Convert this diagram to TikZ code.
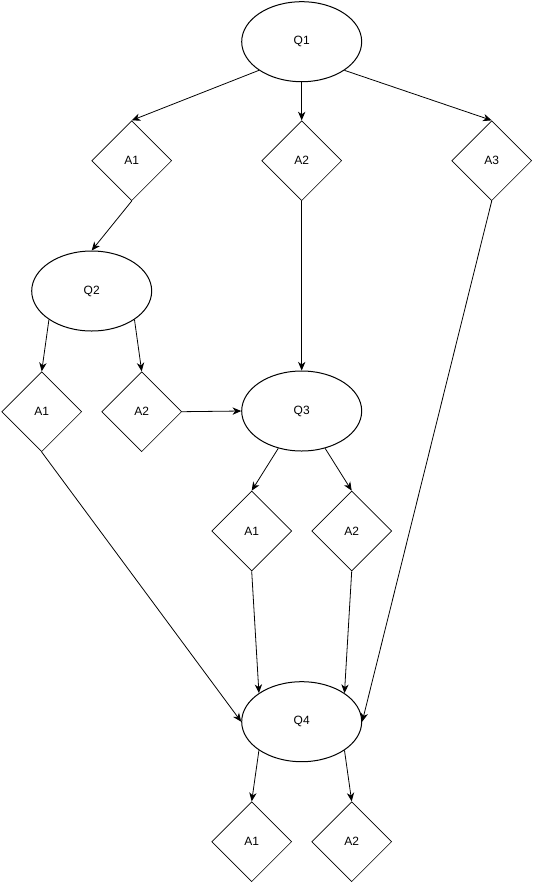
\documentclass[tikz,border=0pt]{standalone}
\usepackage{fontspec}
\setmainfont{Liberation Sans}
\usetikzlibrary{shapes.geometric,arrows.meta}
\begin{document}
\begin{tikzpicture}[x=0.75pt,y=-0.75pt,
  every node/.style={font=\fontsize{9pt}{11pt}\selectfont},
  qnode/.style={ellipse,draw,line width=0.75pt,minimum width=90pt,minimum height=60pt,inner sep=0pt},
  anode/.style={diamond,draw,line width=0.5pt,minimum width=60pt,minimum height=60pt,inner sep=0pt},
  link/.style={draw,line width=0.6pt,-{Stealth[length=6.5pt,width=5.5pt,inset=2pt]}}]
\useasboundingbox (0,0) rectangle (533,883);
\node[qnode] (q1) at (301.7,41.7) {Q1};
\node[anode] (a1) at (131.7,160.7) {A1};
\node[anode] (a2) at (301.7,160.7) {A2};
\node[anode] (a3) at (491.7,160.7) {A3};
\node[qnode] (q2) at (91.7,291) {Q2};
\node[anode] (b1) at (41.7,411.7) {A1};
\node[anode] (b2) at (141.7,411.7) {A2};
\node[qnode] (q3) at (301.7,411) {Q3};
\node[anode] (c1) at (251.7,531) {A1};
\node[anode] (c2) at (351.7,531) {A2};
\node[qnode] (q4) at (301.7,721.7) {Q4};
\node[anode] (d1) at (251.7,841.7) {A1};
\node[anode] (d2) at (351.7,841.7) {A2};
\draw[link] (q1.south west) -- (a1.north);
\draw[link] (q1.south) -- (a2.north);
\draw[link] (q1.south east) -- (a3.north);
\draw[link] (a1.south) -- (q2.north);
\draw[link] (q2.south west) -- (b1.north);
\draw[link] (q2.south east) -- (b2.north);
\draw[link] (b2.east) -- (q3.west);
\draw[link] (a2.south) -- (q3.north);
\draw[link] (q3) -- (c1.north);
\draw[link] (q3) -- (c2.north);
\draw[link] (c1.south) -- (q4.north west);
\draw[link] (c2.south) -- (q4.north east);
\draw[link] (b1.south) -- (q4.west);
\draw[link] (a3.south) -- (q4.east);
\draw[link] (q4.south west) -- (d1.north);
\draw[link] (q4.south east) -- (d2.north);
\end{tikzpicture}
\end{document}
